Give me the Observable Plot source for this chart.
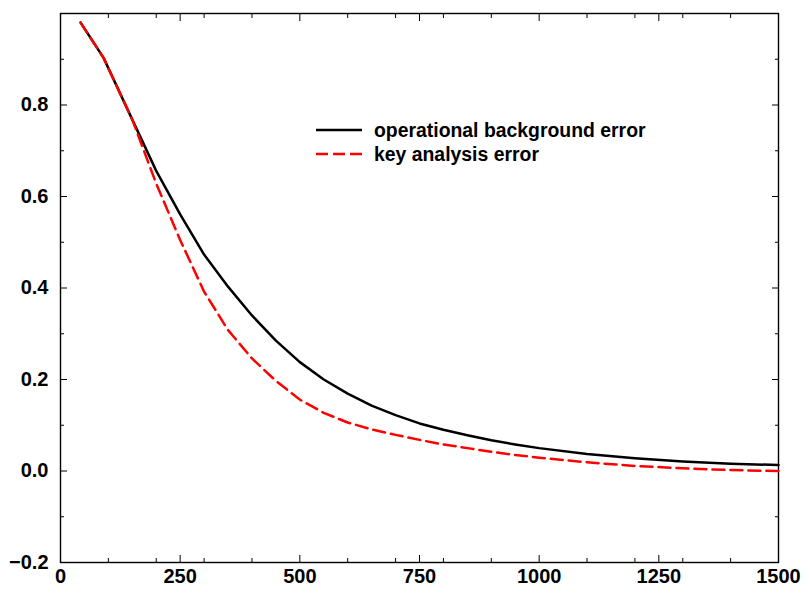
<!DOCTYPE html>
<html>
<head>
<meta charset="utf-8">
<script src="https://cdn.jsdelivr.net/npm/d3@7"></script>
<script src="https://cdn.jsdelivr.net/npm/@observablehq/plot@0.6"></script>
<style>
  html, body { margin: 0; padding: 0; background: white; }
  #chart { width: 804px; height: 593px; }
</style>
</head>
<body>
<div id="chart"></div>
<script>
// Horizontal scale values (x) and the two error-correlation series
const xVals = [42, 90, 150, 200, 250, 300, 350, 400, 450, 500, 550, 600, 650, 700, 750, 800, 850, 900, 950, 1000, 1100, 1200, 1300, 1400, 1500];
const operational = [0.980, 0.903, 0.768, 0.656, 0.561, 0.473, 0.403, 0.340, 0.285, 0.238, 0.200, 0.169, 0.143, 0.122, 0.104, 0.090, 0.078, 0.067, 0.058, 0.050, 0.037, 0.028, 0.021, 0.016, 0.013];
const keyAnalysis = [0.980, 0.903, 0.768, 0.628, 0.505, 0.392, 0.308, 0.246, 0.197, 0.156, 0.127, 0.106, 0.091, 0.079, 0.068, 0.058, 0.050, 0.042, 0.035, 0.029, 0.019, 0.011, 0.006, 0.002, 0.000];

const seriesNames = ["operational background error", "key analysis error"];

// Tick values
const xMajor = [0, 250, 500, 750, 1000, 1250, 1500];
const xMinor = [100, 200, 300, 400, 600, 700, 800, 900, 1100, 1200, 1300, 1400];
const yMajor = [-0.2, 0.0, 0.2, 0.4, 0.6, 0.8];
const yMinor = [-0.1, 0.1, 0.3, 0.5, 0.7, 0.9];

const opData = xVals.map((x, i) => ({x, y: operational[i]}));
const keyData = xVals.map((x, i) => ({x, y: keyAnalysis[i]}));

const blank = () => "";
const fmtY = d3.format(".1f");

const chart = Plot.plot({
  width: 804,
  height: 593,
  marginLeft: 60,
  marginRight: 26,
  marginTop: 13,
  marginBottom: 31,
  x: {domain: [0, 1500]},
  y: {domain: [-0.2, 1.0]},
  style: {
    fontFamily: "'Liberation Sans', Arial, Helvetica, sans-serif",
    fontWeight: "bold",
    fontSize: "20px",
    color: "black",
    background: "white",
    overflow: "visible"
  },
  marks: [
    // inward ticks on all four sides
    Plot.axisX(xMajor, {anchor: "bottom", tickSize: -7, tickFormat: blank, label: null}),
    Plot.axisX(xMinor, {anchor: "bottom", tickSize: -4, tickFormat: blank, label: null}),
    Plot.axisX(xMajor, {anchor: "top", tickSize: -7, tickFormat: blank, label: null}),
    Plot.axisX(xMinor, {anchor: "top", tickSize: -4, tickFormat: blank, label: null}),
    Plot.axisY(yMajor, {anchor: "left", tickSize: -7, tickFormat: blank, label: null}),
    Plot.axisY(yMinor, {anchor: "left", tickSize: -4, tickFormat: blank, label: null}),
    Plot.axisY(yMajor, {anchor: "right", tickSize: -7, tickFormat: blank, label: null}),
    Plot.axisY(yMinor, {anchor: "right", tickSize: -4, tickFormat: blank, label: null}),
    // labels
    Plot.axisX(xMajor, {anchor: "bottom", tickSize: 0, tickPadding: 6, tickFormat: d => String(d), label: null}),
    Plot.axisY(yMajor, {anchor: "left", tickSize: 0, tickPadding: 12, tickFormat: fmtY, label: null}),
    Plot.frame({stroke: "black", strokeWidth: 1.4}),
    Plot.line(opData, {x: "x", y: "y", stroke: "black", strokeWidth: 2.5}),
    Plot.line(keyData, {x: "x", y: "y", stroke: "#ff0000", strokeWidth: 2.5, strokeDasharray: "12,6"})
  ]
});

document.getElementById("chart").appendChild(chart);

// Legend inside the plot area
const svg = d3.select(chart);
const leg = svg.append("g")
  .attr("font-family", "'Liberation Sans', Arial, Helvetica, sans-serif")
  .attr("font-weight", "bold")
  .attr("font-size", "19.4px")
  .attr("text-anchor", "start");
const legendStyles = [
  {stroke: "black", dash: null},
  {stroke: "#ff0000", dash: "12,5"}
];
seriesNames.forEach((name, i) => {
  const yy = 130 + i * 24;
  leg.append("line")
    .attr("x1", 316).attr("x2", 362)
    .attr("y1", yy).attr("y2", yy)
    .attr("stroke", legendStyles[i].stroke)
    .attr("stroke-width", 2.5)
    .attr("stroke-dasharray", legendStyles[i].dash);
  leg.append("text")
    .attr("x", 374).attr("y", yy)
    .attr("dy", "0.35em")
    .attr("text-anchor", "start")
    .attr("fill", "black")
    .text(name);
});
</script>
</body>
</html>
